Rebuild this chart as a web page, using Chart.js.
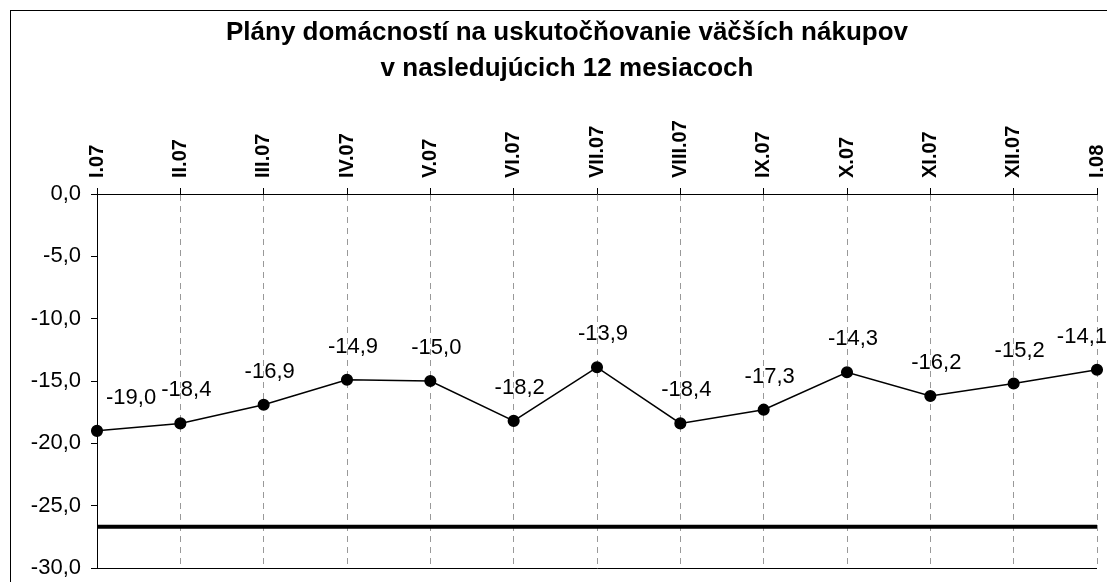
<!DOCTYPE html>
<html>
<head>
<meta charset="utf-8">
<script src="https://cdn.jsdelivr.net/npm/chart.js@4.4.0/dist/chart.umd.min.js"></script>
<style>
  html, body { margin: 0; padding: 0; background: #fff; overflow: hidden; }
  #wrap { position: relative; width: 1107px; height: 582px; }
  #frame { position: absolute; left: 10px; top: 10px; width: 1120px; height: 600px; border: 1px solid #000; pointer-events: none; }
</style>
</head>
<body>
<div id="wrap">
  <canvas id="chart" width="1107" height="582"></canvas>
  <div id="frame"></div>
</div>
<script>
// Mesiace (kategórie na osi X)
const categories = ['I.07', 'II.07', 'III.07', 'IV.07', 'V.07', 'VI.07', 'VII.07', 'VIII.07', 'IX.07', 'X.07', 'XI.07', 'XII.07', 'I.08'];
// Hodnoty indikátora
const values = [-19.0, -18.4, -16.9, -14.9, -15.0, -18.2, -13.9, -18.4, -17.3, -14.3, -16.2, -15.2, -14.1];
// Hrubá čiara (dlhodobý priemer)
const average = [-26.7, -26.7, -26.7, -26.7, -26.7, -26.7, -26.7, -26.7, -26.7, -26.7, -26.7, -26.7, -26.7];
// Os Y
const yMin = -30;
const yMax = 0;
const yStep = 5;

const titleLines = ['Plány domácností na uskutočňovanie väčších nákupov', 'v nasledujúcich 12 mesiacoch'];
const FONT = '"Liberation Sans", Arial, sans-serif';

function fmt(v) {
    return v.toFixed(1).replace('.', ',');
}

// Nadpis - centrovaný na rámik grafu, nie na plátno
const frameTitle = {
    id: 'frameTitle',
    afterDraw(chart) {
        const ctx = chart.ctx;
        ctx.save();
        ctx.font = 'bold 26px ' + FONT;
        ctx.fillStyle = '#000';
        ctx.textAlign = 'center';
        ctx.textBaseline = 'middle';
        titleLines.forEach(function (line, i) {
            ctx.fillText(line, 567, 33 + i * 36);
        });
        ctx.restore();
    }
};

// Popisky hodnôt nad bodmi
const valueLabels = {
    id: 'valueLabels',
    afterDatasetsDraw(chart) {
        const ctx = chart.ctx;
        const meta = chart.getDatasetMeta(0);
        const area = chart.chartArea;
        ctx.save();
        ctx.font = '22px ' + FONT;
        ctx.fillStyle = '#000';
        ctx.textAlign = 'center';
        ctx.textBaseline = 'middle';
        meta.data.forEach(function (pt, i) {
            const txt = fmt(values[i]);
            const w = ctx.measureText(txt).width;
            let cx = pt.x + 6;
            if (cx - w / 2 < area.left + 9) cx = area.left + 9 + w / 2;
            if (cx + w / 2 > chart.width) cx = chart.width - w / 2;
            ctx.fillText(txt, cx, pt.y - 33);
        });
        ctx.restore();
    }
};

new Chart(document.getElementById('chart'), {
    type: 'line',
    data: {
        labels: categories,
        datasets: [{
            data: values,
            borderColor: '#000',
            backgroundColor: '#000',
            borderWidth: 1.5,
            pointRadius: 5.3,
            pointBackgroundColor: '#000',
            pointBorderColor: '#000',
            tension: 0,
            clip: false
        }, {
            data: average,
            borderColor: '#000',
            borderWidth: 4,
            pointRadius: 0,
            tension: 0,
            clip: false
        }]
    },
    options: {
        responsive: false,
        animation: false,
        layout: {
            padding: { left: 10, right: 9, top: 87, bottom: 1 }
        },
        plugins: {
            legend: { display: false },
            tooltip: { enabled: false },
            title: { display: false }
        },
        scales: {
            x: {
                position: 'top',
                offset: false,
                afterFit: function (scale) { scale.height = 107; },
                grid: {
                    color: '#999',
                    lineWidth: 1,
                    drawTicks: true,
                    tickLength: 6,
                    tickColor: '#000'
                },
                border: { display: true, color: '#000', width: 1, dash: [6, 5] },
                ticks: {
                    color: '#000',
                    font: { family: FONT, size: 20, weight: 'bold' },
                    minRotation: 90,
                    maxRotation: 90,
                    padding: 10,
                    labelOffset: 24,
                    autoSkip: false
                }
            },
            y: {
                min: yMin,
                max: yMax,
                afterFit: function (scale) {
                    scale.width = 87;
                    scale.paddingBottom = 14;
                },
                grid: {
                    color: function (c) { return c.tick && c.tick.value === yMin ? '#000' : 'rgba(0,0,0,0)'; },
                    lineWidth: 1,
                    drawTicks: true,
                    tickLength: 6,
                    tickColor: '#000'
                },
                border: { display: true, color: '#000', width: 1 },
                ticks: {
                    stepSize: yStep,
                    color: '#000',
                    font: { family: FONT, size: 22 },
                    padding: 10,
                    callback: function (v) { return fmt(v); }
                }
            }
        }
    },
    plugins: [valueLabels, frameTitle]
});
</script>
</body>
</html>
